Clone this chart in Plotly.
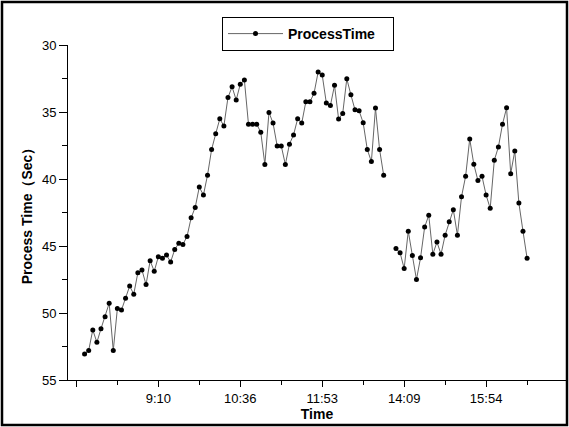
import plotly.graph_objects as go

# Process time (sec) per sample, morning segment and afternoon segment
morning_values = [53.06, 52.79, 51.26, 52.19, 51.18, 50.28, 49.27, 52.80, 49.67, 49.78,
                  48.89, 47.99, 48.60, 46.99, 46.79, 47.88, 46.10, 46.89, 45.80, 45.91,
                  45.68, 46.19, 45.26, 44.79, 44.88, 44.29, 42.90, 42.12, 40.60, 41.20,
                  39.72, 37.80, 36.63, 35.51, 36.04, 33.91, 33.12, 34.11, 32.92, 32.62,
                  35.91, 35.91, 35.91, 36.51, 38.92, 35.03, 35.83, 37.53, 37.53, 38.92,
                  37.40, 36.71, 35.51, 35.83, 34.24, 34.24, 33.61, 32.02, 32.24, 34.32,
                  34.51, 33.01, 35.53, 35.11, 32.52, 33.72, 34.84, 34.91, 35.81, 37.80,
                  38.70, 34.71, 37.80, 39.72]
missing_samples = 2
afternoon_values = [45.18, 45.50, 46.68, 43.89, 45.71, 47.50, 45.88, 43.59, 42.71, 45.61,
                    44.71, 45.61, 44.19, 43.19, 42.29, 44.19, 41.32, 39.80, 37.01, 38.90,
                    40.11, 39.80, 41.20, 42.19, 38.60, 37.61, 35.91, 34.69, 39.60, 37.91,
                    41.80, 43.89, 45.91]
first_index = 2

tick_positions = [0, 20, 40, 60, 80, 100]
tick_labels = ["", "9:10", "10:36", "11:53", "14:09", "15:54"]

y_values = morning_values + [None] * missing_samples + afternoon_values
x_values = list(range(first_index, first_index + len(y_values)))

FONT = "Liberation Sans, Arial, sans-serif"

fig = go.Figure()
fig.add_trace(go.Scatter(
    x=x_values, y=y_values, mode="lines+markers", name="ProcessTime",
    line=dict(color="#666666", width=1),
    marker=dict(color="black", size=5),
    connectgaps=False,
))

W, H = 569, 427
ml, mr, mt, mb = 68, 3, 45, 47
pw, ph = W - ml - mr, H - mt - mb

def px_x(p):
    return (p - ml) / pw

def px_y(p):
    return (H - mb - p) / ph

fig.update_layout(
    width=W, height=H,
    margin=dict(l=ml, r=mr, t=mt, b=mb),
    paper_bgcolor="white", plot_bgcolor="white",
    font=dict(family=FONT, size=13, color="black"),
    showlegend=True,
    legend=dict(
        x=px_x(308), y=px_y(17), xanchor="center", yanchor="top",
        orientation="h", entrywidth=100, entrywidthmode="pixels",
        bordercolor="black", borderwidth=1, bgcolor="white",
        font=dict(family=FONT, size=14, color="black", weight="bold"),
        itemwidth=55,
    ),
    xaxis=dict(
        range=[-2.05, 119.5],
        tickmode="array", tickvals=tick_positions, ticktext=tick_labels,
        showline=True, linecolor="black", linewidth=1,
        ticks="outside", ticklen=6, tickcolor="black", tickwidth=1,
        showgrid=False, zeroline=False,
        minor=dict(dtick=10, tick0=0, ticks="outside", ticklen=4, tickcolor="black", showgrid=False),
        title=dict(text="Time", font=dict(family=FONT, size=14, weight="bold"), standoff=2),
        tickfont=dict(family=FONT, size=13),
    ),
    yaxis=dict(
        range=[55, 30],
        tickmode="linear", tick0=30, dtick=5,
        showline=True, linecolor="black", linewidth=1,
        ticks="outside", ticklen=8, tickcolor="black", tickwidth=1,
        showgrid=False, zeroline=False,
        minor=dict(dtick=2.5, tick0=30, ticks="outside", ticklen=5, tickcolor="black", showgrid=False),
        title=dict(text="Process Time（Sec）", font=dict(family=FONT, size=14, weight="bold"), standoff=6),
        tickfont=dict(family=FONT, size=13),
    ),
    shapes=[dict(
        type="rect", xref="paper", yref="paper",
        x0=px_x(2), x1=px_x(567), y0=px_y(425), y1=px_y(2),
        line=dict(color="black", width=2.5), fillcolor="rgba(0,0,0,0)",
    )],
)

fig.write_html("out.html")
